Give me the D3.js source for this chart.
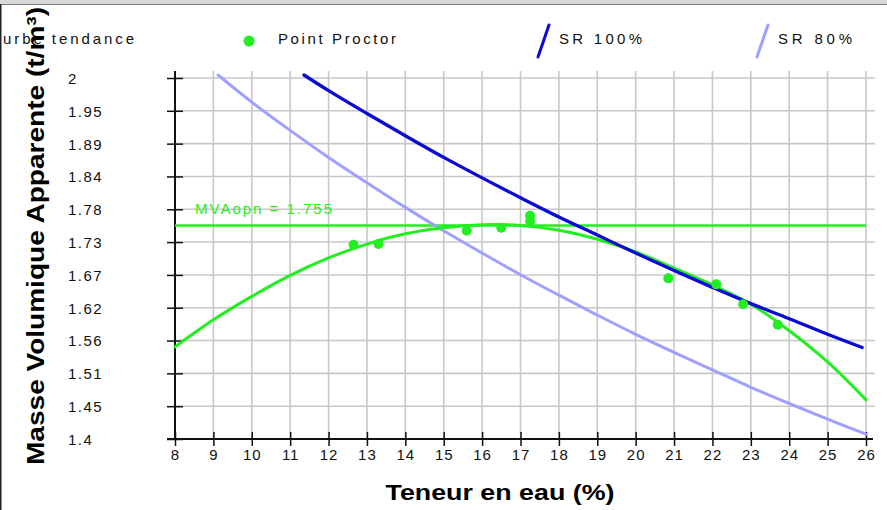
<html>
<script src='https://d3js.org/d3.v7.min.js'></script>
<style>
  body { margin: 0; background: #fff; }
  svg { font-family: "Liberation Sans", Arial, sans-serif; }
</style>
<body>
<svg width=887 height=510></svg>
<script>

// x ticks and y ticks (y labels as printed on the chart)
var xTicks = [8, 9, 10, 11, 12, 13, 14, 15, 16, 17, 18, 19, 20, 21, 22, 23, 24, 25, 26];
var yTicks = [1.4, 1.4545, 1.5091, 1.5636, 1.6182, 1.6727, 1.7273, 1.7818, 1.8364, 1.8909, 1.9455, 2.0];
var yLabels = ["1.4", "1.45", "1.51", "1.56", "1.62", "1.67", "1.73", "1.78", "1.84", "1.89", "1.95", "2"];

// Proctor points (teneur en eau %, masse volumique)
var proctorW = [12.65, 13.3, 15.6, 16.5, 17.25, 17.25, 20.85, 22.1, 22.8, 23.7];
var proctorD = [1.723, 1.724, 1.746, 1.751, 1.771, 1.762, 1.667, 1.657, 1.624, 1.590];

// courbe tendance
var trendW = [8, 9, 10, 11, 12, 13, 14, 15, 16, 17, 18, 19, 20, 21, 22, 23, 24, 25, 26];
var trendD = [1.553, 1.598, 1.637, 1.672, 1.701, 1.724, 1.741, 1.751, 1.756, 1.755, 1.747, 1.732, 1.711, 1.684, 1.656, 1.624, 1.580, 1.528, 1.465];

// SR 100%
var sr100W = [11.36, 12, 13, 14, 15, 16, 17, 18, 19, 20, 21, 22, 23, 24, 25, 25.9];
var sr100D = [2.005, 1.979, 1.941, 1.904, 1.868, 1.834, 1.801, 1.769, 1.739, 1.709, 1.680, 1.652, 1.625, 1.600, 1.574, 1.552];

// SR 80%
var sr80W = [9.12, 10, 11, 12, 13, 14, 15, 16, 17, 18, 19, 20, 21, 22, 23, 24, 25, 26];
var sr80D = [2.005, 1.960, 1.913, 1.868, 1.826, 1.785, 1.746, 1.709, 1.673, 1.639, 1.606, 1.574, 1.544, 1.515, 1.486, 1.459, 1.433, 1.408];

var mvaOpn = 1.755;

var green = "#22ee22", blue = "#0a0ad2", lightBlue = "#a0a0ff";

var svg = d3.select("svg");
var x = d3.scaleLinear().domain([8, 26]).range([175, 866]);
var y = d3.scaleLinear().domain([1.4, 2]).range([439, 78]);

// window frame
svg.append("rect").attr("x", 0).attr("y", 0).attr("width", 887).attr("height", 4).attr("fill", "#d8d8d8");
svg.append("line").attr("x1", 0).attr("x2", 887).attr("y1", 4.5).attr("y2", 4.5).attr("stroke", "#777");
svg.append("line").attr("x1", 0.5).attr("x2", 0.5).attr("y1", 4).attr("y2", 510).attr("stroke", "#222").attr("stroke-width", 2);

//grid
var grid = svg.append("g").attr("stroke", "#c8c8c8").attr("stroke-width", 1.6);
grid.selectAll(".vg").data(xTicks.slice(1)).enter().append("line")
  .attr("x1", function(d) { return x(d); }).attr("x2", function(d) { return x(d); })
  .attr("y1", 71).attr("y2", 439);
grid.selectAll(".hg").data(yTicks.slice(1)).enter().append("line")
  .attr("x1", 175).attr("x2", 875)
  .attr("y1", function(d) { return y(d); }).attr("y2", function(d) { return y(d); });

//y-axis
var yAxis = svg.append("g")
  .attr("transform", "translate(175,0)")
  .call(d3.axisLeft(y).tickValues(yTicks).tickSize(8).tickSizeOuter(0)
    .tickFormat(function(d, i) { return yLabels[i]; }));
yAxis.select(".domain").attr("d", "M0,71V439").attr("stroke", "#111").attr("stroke-width", 2);
yAxis.selectAll(".tick line").attr("x1", 8).attr("stroke", "#111").attr("stroke-width", 1.5);
yAxis.selectAll(".tick text").attr("x", 68 - 175).attr("dy", "0.36em")
  .attr("text-anchor", "start").style("font-size", "15px").style("letter-spacing", "1.5px")
  .attr("font-family", "Liberation Sans").attr("fill", "#111");

//x-axis
var xAxis = svg.append("g")
  .attr("transform", "translate(0,439)")
  .call(d3.axisBottom(x).tickValues(xTicks).tickSize(7).tickSizeOuter(0));
xAxis.select(".domain").attr("d", "M167,0H873").attr("stroke", "#111").attr("stroke-width", 2);
xAxis.selectAll(".tick line").attr("y1", -7).attr("stroke", "#111").attr("stroke-width", 1.5);
xAxis.selectAll(".tick text").attr("y", 21).attr("dy", 0)
  .style("font-size", "15px").style("letter-spacing", "1px")
  .attr("font-family", "Liberation Sans").attr("fill", "#111");

// MVAopn line
svg.append("line")
  .attr("x1", x(8)).attr("x2", x(26))
  .attr("y1", y(mvaOpn)).attr("y2", y(mvaOpn))
  .attr("stroke", green).attr("stroke-width", 2.5);
svg.append("text").attr("x", 195).attr("y", 214)
  .style("font-size", "15px").style("letter-spacing", "2px")
  .attr("fill", green).text("MVAopn = " + mvaOpn);

var line = d3.line().x(function(d) { return x(d[0]); }).y(function(d) { return y(d[1]); })
  .curve(d3.curveCatmullRom);

function series(ws, ds, color, w) {
  svg.append("path").datum(ws.map(function(v, i) { return [v, ds[i]]; }))
    .attr("d", line).attr("fill", "none").attr("stroke", color)
    .attr("stroke-width", w).attr("stroke-linecap", "round");
}
series(sr80W, sr80D, lightBlue, 3);
series(trendW, trendD, green, 3);
series(sr100W, sr100D, blue, 3.3);

//points
svg.selectAll(".pt").data(proctorW).enter().append("circle")
  .attr("cx", function(d) { return x(d); })
  .attr("cy", function(d, i) { return y(proctorD[i]); })
  .attr("r", 5).attr("fill", green);

//legend
var lg = svg.append("g").style("font-size", "15px").attr("fill", "#111");
lg.append("text").attr("x", -22).attr("y", 44)
  .attr("textLength", 156).attr("lengthAdjust", "spacing").text("Courbe tendance");
lg.append("circle").attr("cx", 249).attr("cy", 41).attr("r", 5.5).attr("fill", green);
lg.append("text").attr("x", 278).attr("y", 44)
  .attr("textLength", 118).attr("lengthAdjust", "spacing").text("Point Proctor");
lg.append("line").attr("x1", 538).attr("y1", 57).attr("x2", 549).attr("y2", 25)
  .attr("stroke", blue).attr("stroke-width", 3).attr("stroke-linecap", "round");
lg.append("text").attr("x", 559).attr("y", 44)
  .attr("textLength", 83).attr("lengthAdjust", "spacing").text("SR 100%");
lg.append("line").attr("x1", 757).attr("y1", 57).attr("x2", 768).attr("y2", 25)
  .attr("stroke", lightBlue).attr("stroke-width", 3).attr("stroke-linecap", "round");
lg.append("text").attr("x", 778).attr("y", 44)
  .attr("textLength", 74).attr("lengthAdjust", "spacing").text("SR 80%");

//axis titles
svg.append("text").attr("x", 500).attr("y", 500).attr("text-anchor", "middle")
  .style("font-size", "22px").style("font-weight", "bold")
  .attr("textLength", 229).attr("lengthAdjust", "spacingAndGlyphs")
  .text("Teneur en eau (%)");

svg.append("text").attr("transform", "translate(44,236) rotate(-90)").attr("text-anchor", "middle")
  .style("font-size", "24px").style("font-weight", "bold")
  .attr("textLength", 458).attr("lengthAdjust", "spacingAndGlyphs")
  .text("Masse Volumique Apparente (t/m³)");

</script>
</body>
</html>
